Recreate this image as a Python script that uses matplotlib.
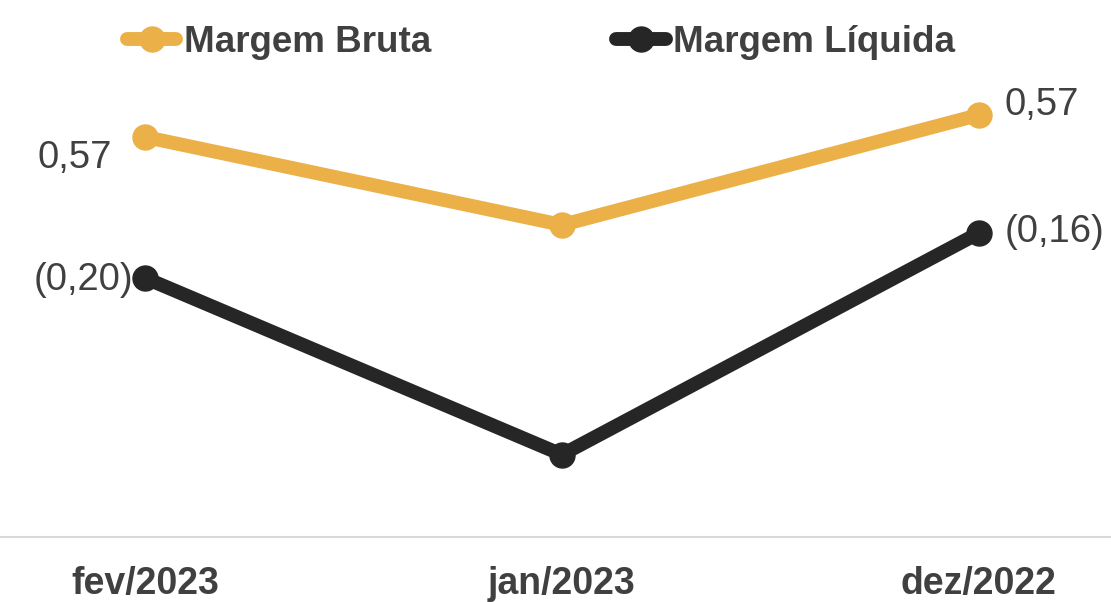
from matplotlib import pyplot as plt
from matplotlib.lines import Line2D

categories = ['fev/2023', 'jan/2023', 'dez/2022']
margem_bruta = [0.566, 0.534, 0.574]
margem_liquida = [-0.20, -0.357, -0.16]

ORANGE = '#EBB047'
BLACK = '#262626'
TEXT = '#404040'


def fmt(v):
    s = f'{abs(v):.2f}'.replace('.', ',')
    return f'({s})' if v < 0 else s


def main():
    plt.rcParams['font.family'] = ['Liberation Sans', 'DejaVu Sans']
    fig = plt.figure(figsize=(11.11, 6.02), dpi=100)
    ax = fig.add_axes([0, 65 / 602, 1, 537 / 602])
    ax2 = ax.twinx()

    x = list(range(len(categories)))
    ax.plot(x, margem_liquida, color=BLACK, lw=10, marker='o', ms=18,
            solid_capstyle='round')
    ax2.plot(x, margem_bruta, color=ORANGE, lw=10, marker='o', ms=18,
             solid_capstyle='round')

    ax.set_xlim(-0.348, 2.317)
    ax.set_ylim(-0.4302, 0.0471)
    ax2.set_ylim(0.4205, 0.6158)

    for a in (ax, ax2):
        for side in ('top', 'left', 'right'):
            a.spines[side].set_visible(False)
        a.set_yticks([])
    ax2.spines['bottom'].set_visible(False)
    ax.spines['bottom'].set_color('#d9d9d9')
    ax.spines['bottom'].set_linewidth(1.5)

    ax.set_xticks(x)
    ax.set_xticklabels(categories, fontsize=27, fontweight='bold', color=TEXT)
    ax.tick_params(axis='x', length=0, pad=21)

    # data labels: first point left of marker, last point right of marker
    label_style = dict(fontsize=27.5, color=TEXT, textcoords='offset pixels',
                       va='center')
    ax2.annotate(fmt(margem_bruta[0]), (0, margem_bruta[0]), xytext=(-33, -21),
                 ha='right', **label_style)
    ax2.annotate(fmt(margem_bruta[2]), (2, margem_bruta[2]), xytext=(26, 10),
                 ha='left', **label_style)
    ax.annotate(fmt(margem_liquida[0]), (0, margem_liquida[0]), xytext=(-12, -2),
                ha='right', **label_style)
    ax.annotate(fmt(margem_liquida[2]), (2, margem_liquida[2]), xytext=(26, 1),
                ha='left', **label_style)

    handles = [
        Line2D([], [], color=ORANGE, lw=10, marker='o', ms=18,
               solid_capstyle='round'),
        Line2D([], [], color=BLACK, lw=10, marker='o', ms=18,
               solid_capstyle='round'),
    ]
    leg = fig.legend(handles, ['Margem Bruta', 'Margem Líquida'],
                     loc='center', bbox_to_anchor=(541 / 1111, 1 - 42 / 602),
                     ncol=2, frameon=False, handlelength=1.35,
                     handletextpad=0.2, columnspacing=5.03,
                     prop={'size': 26.5, 'weight': 'bold'})
    for t in leg.get_texts():
        t.set_color(TEXT)

    fig.savefig('out.png', dpi=100)


if __name__ == '__main__':
    main()
